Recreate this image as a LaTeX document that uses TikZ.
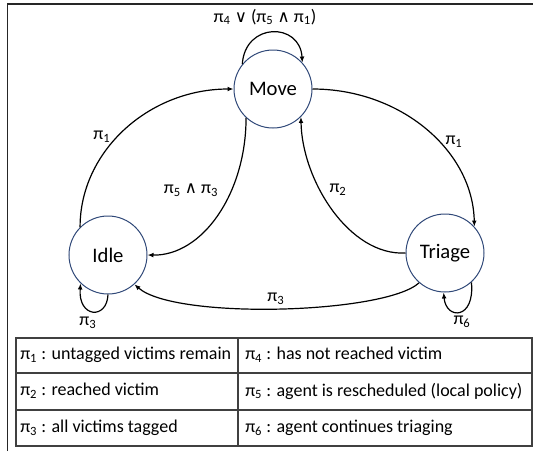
\documentclass[tikz,border=0pt]{standalone}
\usepackage{fontspec}
\setmainfont{Carlito}
\newfontfamily\symf{DejaVu Sans}
\usetikzlibrary{arrows.meta}
\definecolor{circblue}{RGB}{47,72,120}
\newcommand{\pis}[1]{π\textsubscript{#1}}
\newcommand{\orsym}{{\symf\fontsize{12.5}{14}\selectfont ∨}}
\newcommand{\andsym}{{\symf\fontsize{12.5}{14}\selectfont ∧}}
\begin{document}
\begin{tikzpicture}[x=0.75pt,y=-0.75pt,
  state/.style={circle,draw=circblue,line width=0.75pt,minimum size=58.5pt,inner sep=0pt,font=\fontsize{15.5}{18}\selectfont},
  lbl/.style={inner sep=0pt,font=\fontsize{13.5}{16}\selectfont},
  cell/.style={inner sep=0pt,anchor=west,font=\fontsize{13.5}{16}\selectfont},
  edge/.style={line width=0.9pt,-{Latex[length=4.5pt,width=3.6pt]}},
  frame/.style={line width=1.1pt,draw=black!85},
  grid/.style={line width=0.8pt,draw=black!75}]
\useasboundingbox (0,0) rectangle (533,451);
% frame
\draw[frame] (7.5,451) -- (7.5,4) -- (533,4);
% states
\node[state] (move) at (273,89) {Move};
\node[state] (idle) at (108,255) {Idle};
\node[state] (triage) at (445,253) {Triage};
% edges
\draw[edge] (idle.135) .. controls (80,151) and (149,89) .. (move.west);
\draw[edge] (move.east) .. controls (401,89) and (473,151) .. (triage.42);
\draw[edge] (move.227) .. controls (246,194) and (202,256) .. (idle.east);
\draw[edge] (triage.west) .. controls (349,256) and (302,180) .. (move.315);
\draw[edge] (triage.229) .. controls (385,314) and (175,320) .. (idle.312);
% loops
\draw[edge] (move.141) .. controls (245,22) and (300,22) .. (move.42);
\draw[edge] (idle.270) .. controls (107,320) and (78,318) .. (idle.226);
\draw[edge] (triage.312) .. controls (475,320) and (446,320) .. (triage.268);
% labels
\node[lbl] (lmove) at (265,17) {\pis{4} \orsym{} (\pis{5} \andsym{} \pis{1})};
\node[lbl] (l1a) at (102,137) {\pis{1}};
\node[lbl] (l1b) at (454,142) {\pis{1}};
\node[lbl] (l53) at (191,190) {\pis{5} \andsym{} \pis{3}};
\node[lbl] (l2) at (338,190) {\pis{2}};
\node[lbl] (l3) at (276,299) {\pis{3}};
\node[lbl] (l3i) at (88,323) {\pis{3}};
\node[lbl] (l6) at (462,322) {\pis{6}};
% table
\draw[grid] (16,338) rectangle (532,446);
\draw[grid] (16,373) -- (532,373);
\draw[grid] (16,410) -- (532,410);
\draw[grid] (238,338) -- (238,446);
\node[cell] (t1) at (20,355) {\pis{1} : untagged victims remain};
\node[cell] (t2) at (20,391) {\pis{2} : reached victim};
\node[cell] (t3) at (20,428) {\pis{3} : all victims tagged};
\node[cell] (t4) at (245,355) {\pis{4} : has not reached victim};
\node[cell] (t5) at (245,391) {\pis{5} : agent is rescheduled (local policy)};
\node[cell] (t6) at (245,428) {\pis{6} : agent continues triaging};
\end{tikzpicture}
\end{document}
